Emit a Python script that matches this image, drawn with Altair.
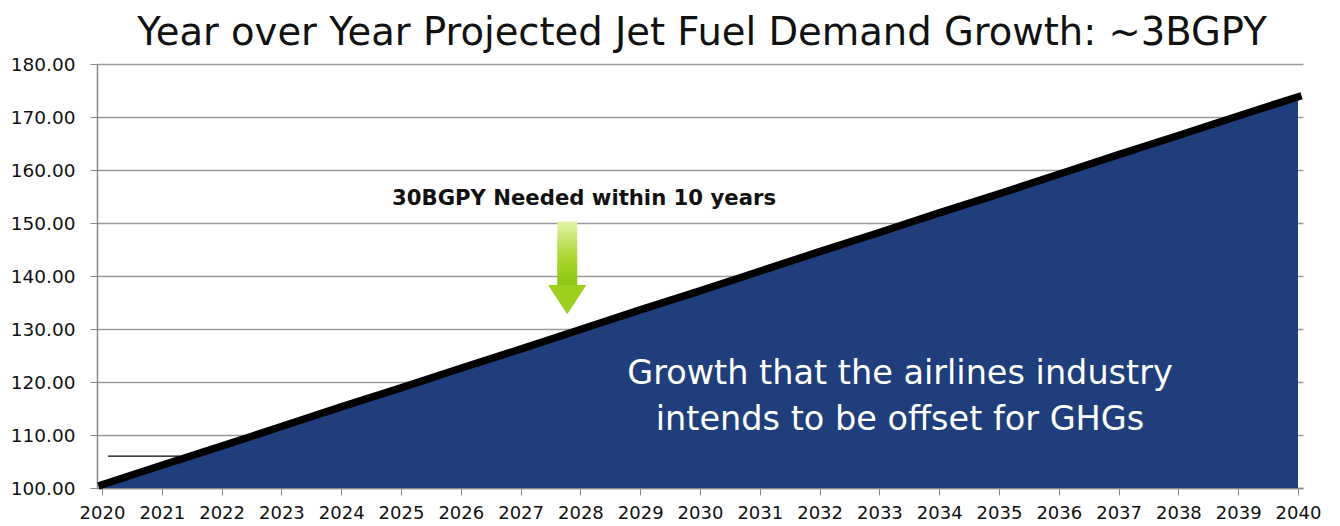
import altair as alt
import pandas as pd

years = list(range(2020, 2041))
demand = [100.6, 104.3, 107.9, 111.6, 115.3, 118.9, 122.6, 126.2, 129.9, 133.6,
          137.2, 140.9, 144.6, 148.2, 151.9, 155.5, 159.2, 162.9, 166.5, 170.2, 173.8]

title_text = "Year over Year Projected Jet Fuel Demand Growth: ~3BGPY"
note_text = "30BGPY Needed within 10 years"
body_line1 = "Growth that the airlines industry"
body_line2 = "intends to be offset for GHGs"

# stray short legend line near 2020
stray_x = [2020.1, 2021.3]
stray_y = 106.0

# arrow (data units)
arrow_x = 2027.78
arrow_top = 150.3
arrow_neck = 138.3
arrow_tip = 132.8
arrow_half = 0.32

W, H = 1206, 424
FONT = "DejaVu Sans"

df = pd.DataFrame({"year": years, "demand": demand})

xs = alt.Scale(domain=[2020, 2040], nice=False, zero=False)
ys = alt.Scale(domain=[100, 180], nice=False, zero=False)

xax = alt.Axis(values=years, format="d", grid=False, title=None, labelFontSize=18,
               labelFont=FONT, labelColor="#111", tickSize=7, tickColor="#888",
               domainColor="#888", domainWidth=1.5, labelPadding=9, labelFlush=False)
yax = alt.Axis(values=list(range(100, 181, 10)), format=".2f", grid=True, gridColor="#9a9a9a",
               gridWidth=1.5, title=None, labelFontSize=18.5, labelFont=FONT, labelColor="#111",
               tickSize=7, tickColor="#888", domainColor="#888", domainWidth=1.5,
               labelPadding=15)

base = alt.Chart(df)

area = base.mark_area(color="#1F3E7B", opacity=1).encode(
    x=alt.X("year:Q", scale=xs, axis=xax),
    y=alt.Y("demand:Q", scale=ys, axis=yax),
    y2=alt.datum(100),
)

line = base.mark_line(color="#000000", strokeWidth=7.5, strokeCap="square").encode(
    x=alt.X("year:Q", scale=xs),
    y=alt.Y("demand:Q", scale=ys),
)

stray = alt.Chart(pd.DataFrame({"x": [stray_x[0]], "x2": [stray_x[1]], "y": [stray_y]})).mark_rule(
    color="#000", strokeWidth=1.3).encode(
    x=alt.X("x:Q", scale=xs), x2="x2:Q", y=alt.Y("y:Q", scale=ys))

grad = alt.Gradient(gradient="linear", x1=0, y1=0, x2=0, y2=1,
                    stops=[alt.GradientStop(color="#e3f3a8", offset=0),
                           alt.GradientStop(color="#a8d62a", offset=0.6),
                           alt.GradientStop(color="#8cc414", offset=1)])

shaft = alt.Chart(pd.DataFrame({"x": [arrow_x], "y": [arrow_top], "y2": [arrow_neck]})).mark_bar(
    size=20, color=grad).encode(
    x=alt.X("x:Q", scale=xs), y=alt.Y("y:Q", scale=ys), y2="y2:Q")

head_df = pd.DataFrame({"x": [arrow_x - arrow_half, arrow_x, arrow_x + arrow_half],
                        "y": [arrow_neck] * 3,
                        "y2": [arrow_neck, arrow_tip, arrow_neck]})
head = alt.Chart(head_df).mark_area(color="#9dcf1e").encode(
    x=alt.X("x:Q", scale=xs), y=alt.Y("y:Q", scale=ys), y2="y2:Q")

note = alt.Chart(pd.DataFrame({"t": [note_text]})).mark_text(
    font=FONT, fontSize=21.2, fontWeight="bold", color="#111", align="center", baseline="middle"
).encode(x=alt.value(584 - 97), y=alt.value(199 - 64), text="t:N")

body1 = alt.Chart(pd.DataFrame({"t": [body_line1]})).mark_text(
    font=FONT, fontSize=33.5, color="#ffffff", align="center", baseline="middle"
).encode(x=alt.value(900 - 97), y=alt.value(374 - 64), text="t:N")

body2 = alt.Chart(pd.DataFrame({"t": [body_line2]})).mark_text(
    font=FONT, fontSize=33.5, color="#ffffff", align="center", baseline="middle"
).encode(x=alt.value(900 - 97), y=alt.value(420 - 64), text="t:N")

title = alt.Chart(pd.DataFrame({"t": [title_text]})).mark_text(
    font=FONT, fontSize=38.5, color="#111", align="center", baseline="middle"
).encode(x=alt.value(702 - 97), y=alt.value(33 - 64), text="t:N")

chart = alt.layer(area, line, stray, shaft, head, note, body1, body2, title).properties(
    width=W, height=H,
    autosize=alt.AutoSizeParams(type="none"),
    padding={"left": 97, "top": 64, "right": 37, "bottom": 38},
    background="#ffffff",
).configure_view(strokeWidth=0)

chart.save("out.html", embed_options={"renderer": "svg", "actions": False})
